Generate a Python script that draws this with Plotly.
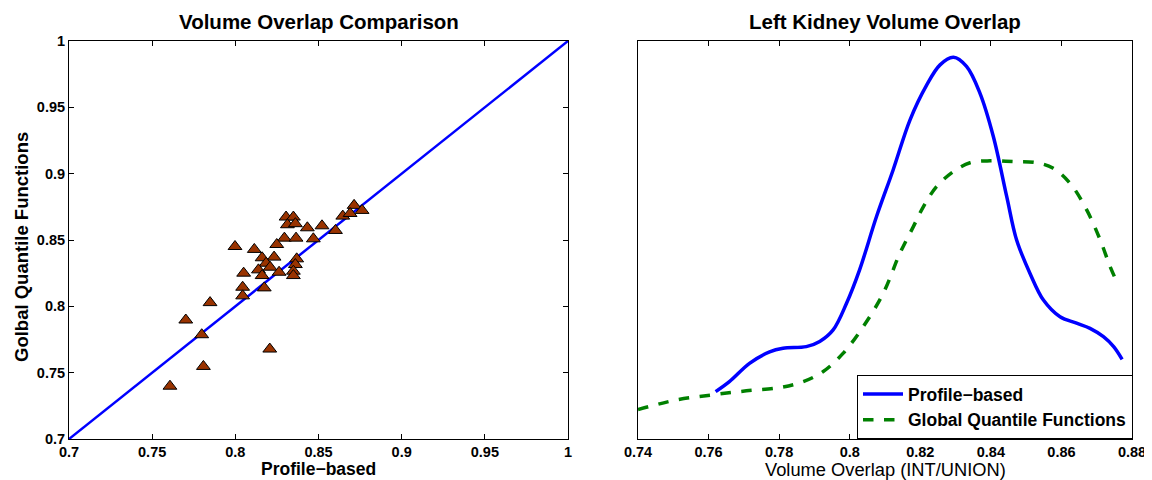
import plotly.graph_objects as go

# Scatter data (Profile-based vs Global quantile functions)
profile_based = [0.8714, 0.8762, 0.8646, 0.8690, 0.8305, 0.8349, 0.8313, 0.8361, 0.8433, 0.8521,
                 0.8602, 0.8295, 0.8365, 0.8469, 0.8249, 0.7998, 0.8114, 0.8161, 0.8233, 0.8369,
                 0.8185, 0.8209, 0.8139, 0.8361, 0.8263, 0.8050, 0.8161, 0.8349, 0.8349, 0.8044,
                 0.8174, 0.8044, 0.7848, 0.7798, 0.8207, 0.7808, 0.7702, 0.7607]
global_quantile = [0.8761, 0.8723, 0.8680, 0.8700, 0.8673, 0.8673, 0.8615, 0.8623, 0.8592, 0.8607,
                   0.8572, 0.8514, 0.8514, 0.8509, 0.8466, 0.8451, 0.8429, 0.8366, 0.8371, 0.8358,
                   0.8325, 0.8295, 0.8275, 0.8315, 0.8257, 0.8250, 0.8232, 0.8265, 0.8232, 0.8144,
                   0.8139, 0.8079, 0.8028, 0.7786, 0.7678, 0.7547, 0.7897, 0.7398]
diag = [0.7, 1.0]

# Density curves (relative height)
blue_x = [0.7620, 0.7659, 0.7716, 0.7773, 0.7811, 0.7877, 0.7915, 0.7953, 0.7991, 0.8028,
          0.8076, 0.8123, 0.8171, 0.8218, 0.8256, 0.8294, 0.8331, 0.8369, 0.8407, 0.8445,
          0.8473, 0.8511, 0.8549, 0.8596, 0.8643, 0.8681, 0.8719, 0.8748, 0.8772]
blue_y = [0.119, 0.144, 0.190, 0.219, 0.228, 0.232, 0.245, 0.274, 0.341, 0.425,
          0.559, 0.676, 0.802, 0.889, 0.940, 0.959, 0.936, 0.869, 0.760, 0.609,
          0.500, 0.416, 0.349, 0.307, 0.291, 0.278, 0.257, 0.232, 0.200]
green_x = [0.7400, 0.7508, 0.7612, 0.7707, 0.7801, 0.7868, 0.7924, 0.7981, 0.8038, 0.8095,
           0.8142, 0.8180, 0.8209, 0.8246, 0.8294, 0.8341, 0.8398, 0.8464, 0.8530, 0.8577,
           0.8625, 0.8672, 0.8710, 0.8738, 0.8757]
green_y = [0.074, 0.098, 0.111, 0.121, 0.129, 0.144, 0.169, 0.215, 0.282, 0.366,
           0.466, 0.533, 0.584, 0.634, 0.672, 0.694, 0.699, 0.697, 0.694, 0.680,
           0.642, 0.575, 0.500, 0.433, 0.395]

left_ticks = [0.7, 0.75, 0.8, 0.85, 0.9, 0.95, 1.0]
left_tick_text = ["0.7", "0.75", "0.8", "0.85", "0.9", "0.95", "1"]
right_ticks = [0.74, 0.76, 0.78, 0.8, 0.82, 0.84, 0.86, 0.88]
right_tick_text = ["0.74", "0.76", "0.78", "0.8", "0.82", "0.84", "0.86", "0.88"]

FONT = "Liberation Sans, Arial, Helvetica, sans-serif"

# page has an 8px body margin: shift the layout accordingly
OFF = 8
W, H = 1152 - OFF, 480 - OFF


def xp(px):
    return (px - OFF) / W


def yp(py):
    return 1 - (py - OFF) / H


def bold(labels):
    return ["<b>%s</b>" % t for t in labels]


fig = go.Figure()
fig.add_trace(go.Scatter(x=diag, y=diag, mode="lines", line=dict(color="#0000FF", width=2.5),
                         showlegend=False, xaxis="x", yaxis="y"))
fig.add_trace(go.Scatter(x=profile_based, y=global_quantile, mode="markers",
                         marker=dict(symbol="triangle-up", size=12, color="#993300",
                                     line=dict(color="black", width=1)),
                         showlegend=False, xaxis="x", yaxis="y"))
fig.add_trace(go.Scatter(x=blue_x, y=blue_y, mode="lines", name="Profile\u2212based",
                         line=dict(color="#0000FF", width=3.5, shape="spline"),
                         xaxis="x2", yaxis="y2"))
fig.add_trace(go.Scatter(x=green_x, y=green_y, mode="lines", name="Global Quantile Functions",
                         line=dict(color="#008000", width=3.5, dash="dash", shape="spline"),
                         xaxis="x2", yaxis="y2"))

axis_common = dict(showline=True, linecolor="black", linewidth=1, mirror="ticks",
                   ticks="inside", ticklen=5, tickcolor="black", showgrid=False, zeroline=False,
                   tickfont=dict(family=FONT, size=14.5, color="black"),
                   automargin=False)

y0, y1 = yp(439), yp(41)
fig.update_layout(
    width=W, height=H,
    margin=dict(l=0, r=0, t=0, b=0),
    paper_bgcolor="white", plot_bgcolor="white",
    font=dict(family=FONT, color="black"),
    xaxis=dict(domain=[xp(69), xp(568)], range=[0.7, 1.0000001], tickvals=left_ticks,
               ticktext=bold(left_tick_text), anchor="y", **axis_common),
    yaxis=dict(domain=[y0, y1], range=[0.7, 1.0000001], tickvals=left_ticks,
               ticktext=bold(left_tick_text), anchor="x", **axis_common),
    xaxis2=dict(domain=[xp(638), xp(1132)], range=[0.7399999, 0.8800001], tickvals=right_ticks,
                ticktext=bold(right_tick_text), anchor="y2", **axis_common),
    yaxis2=dict(domain=[y0, y1], range=[0, 1], anchor="x2", showline=True, linecolor="black",
                linewidth=1, mirror=True, ticks="", showticklabels=False, showgrid=False,
                zeroline=False),
    legend=dict(x=xp(1133), xanchor="right", y=yp(375), yanchor="top",
                xref="paper", yref="paper",
                bordercolor="black", borderwidth=1, bgcolor="white",
                font=dict(family=FONT, size=17.5, color="black", weight="bold"),
                tracegroupgap=0, itemwidth=40),
    annotations=[
        dict(text="Volume Overlap Comparison", x=xp((69 + 568) / 2), y=yp(21),
             xref="paper", yref="paper", showarrow=False, xanchor="center", yanchor="middle",
             font=dict(family=FONT, size=20.5, color="black", weight="bold")),
        dict(text="Left Kidney Volume Overlap", x=xp((638 + 1132) / 2), y=yp(21),
             xref="paper", yref="paper", showarrow=False, xanchor="center", yanchor="middle",
             font=dict(family=FONT, size=20.5, color="black", weight="bold")),
        dict(text="Profile\u2212based", x=xp((69 + 568) / 2), y=yp(469),
             xref="paper", yref="paper", showarrow=False, xanchor="center", yanchor="middle",
             font=dict(family=FONT, size=17.5, color="black", weight="bold")),
        dict(text="Volume Overlap (INT/UNION)", x=xp((638 + 1132) / 2), y=yp(469),
             xref="paper", yref="paper", showarrow=False, xanchor="center", yanchor="middle",
             font=dict(family=FONT, size=18.3, color="black")),
        dict(text="Golbal Quantile Functions", x=xp(21), y=yp(247),
             xref="paper", yref="paper", showarrow=False, xanchor="center", yanchor="middle",
             textangle=-90,
             font=dict(family=FONT, size=18.5, color="black", weight="bold")),
    ],
)

fig.write_html("out.html")
